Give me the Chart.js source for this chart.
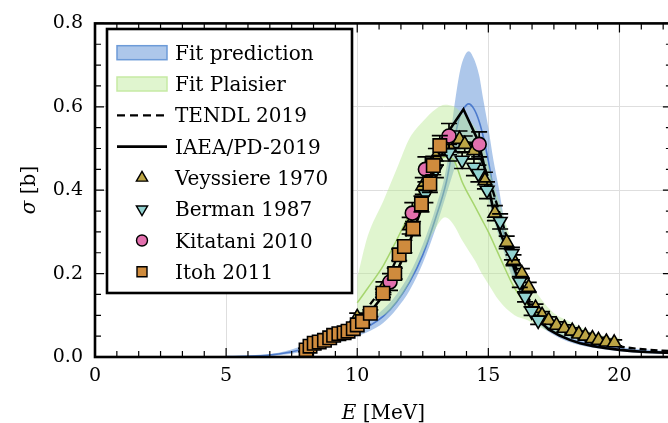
<!DOCTYPE html>
<html><head><meta charset="utf-8">
<script src="https://cdn.jsdelivr.net/npm/chart.js@4.4.1/dist/chart.umd.min.js"></script>
<style>html,body{margin:0;padding:0;background:#fff;overflow:hidden;width:668px;height:423px}canvas{display:block}</style>
</head><body>
<canvas id="c" width="683" height="423"></canvas>
<script>
// ---- data (E in MeV, sigma in b) ----
const fitE   = [5,6,7,8,9,10,10.5,11,11.5,12,12.5,13,13.4,13.7,13.9,14.05,14.25,14.45,14.65,14.8,15.0,15.2,15.4,15.6,15.8,16,16.5,17,17.5,18,19,20,21,22];
const fitHi  = [0.002,0.004,0.01,0.028,0.05,0.075,0.09,0.115,0.15,0.2,0.27,0.36,0.455,0.6,0.68,0.715,0.733,0.715,0.675,0.62,0.55,0.47,0.405,0.33,0.27,0.22,0.14,0.095,0.07,0.052,0.034,0.024,0.018,0.014];
const fitLo  = [0,0.001,0.004,0.014,0.03,0.05,0.063,0.082,0.115,0.16,0.225,0.31,0.39,0.45,0.49,0.51,0.52,0.5,0.465,0.43,0.38,0.33,0.29,0.25,0.21,0.18,0.115,0.075,0.053,0.038,0.022,0.014,0.009,0.007];
const fitMid = [0.001,0.002,0.007,0.02,0.04,0.062,0.076,0.098,0.132,0.18,0.245,0.335,0.42,0.52,0.575,0.595,0.607,0.595,0.565,0.53,0.47,0.4,0.345,0.29,0.24,0.2,0.128,0.085,0.062,0.045,0.028,0.019,0.013,0.01];

const plE   = [10,10.4,11,11.5,12,12.5,13,13.35,13.7,14,14.5,14.75,15,15.4,16,16.5,17,17.5,18,18.5,19,19.5,20];
const plHi  = [0.19,0.29,0.375,0.45,0.525,0.565,0.595,0.605,0.6,0.585,0.55,0.52,0.46,0.375,0.26,0.19,0.14,0.105,0.088,0.072,0.058,0.05,0.046];
const plLo  = [0.09,0.095,0.1,0.13,0.18,0.25,0.31,0.335,0.315,0.28,0.23,0.2,0.175,0.136,0.1,0.088,0.07,0.058,0.048,0.04,0.034,0.03,0.028];
const plMid = [0.13,0.165,0.22,0.28,0.345,0.41,0.46,0.48,0.47,0.42,0.36,0.33,0.3,0.245,0.165,0.125,0.098,0.078,0.064,0.054,0.046,0.04,0.036];

const tendlE = [7.9,8,8.5,9,9.5,10,10.5,11,11.5,12,12.5,13,13.5,14,14.5,15,15.5,16,16.5,17,17.5,18,18.5,19,19.5,20,21,22];
const tendlS = [0,0.014,0.03,0.046,0.066,0.092,0.127,0.173,0.235,0.315,0.4,0.465,0.505,0.518,0.5,0.43,0.33,0.225,0.145,0.098,0.072,0.056,0.045,0.036,0.03,0.025,0.018,0.014];

const iaeaE = [7.9,8,8.5,9,9.5,10,10.5,11,11.5,12,12.5,12.8,13.0,13.2,14.05,14.6,14.8,15.0,15.25,15.5,15.77,16.0,16.2,16.45,16.7,17.0,17.3,17.7,18.1,18.5,19,19.5,20,20.5,21,22];
const iaeaS = [0,0.012,0.024,0.038,0.055,0.078,0.108,0.148,0.203,0.276,0.365,0.425,0.465,0.515,0.594,0.52,0.47,0.41,0.335,0.29,0.252,0.21,0.178,0.14,0.105,0.083,0.066,0.052,0.041,0.033,0.026,0.021,0.017,0.014,0.012,0.01];

const veyE   = [10.0,11.0,12.0,12.5,13.0,13.5,13.9,14.1,14.45,14.87,15.25,15.7,15.96,16.28,16.54,16.8,17.05,17.3,17.6,17.9,18.2,18.45,18.7,18.97,19.2,19.5,19.8];
const veyS   = [0.095,0.165,0.315,0.41,0.48,0.505,0.522,0.51,0.495,0.423,0.345,0.275,0.232,0.2,0.167,0.117,0.1,0.088,0.076,0.069,0.062,0.055,0.05,0.044,0.04,0.036,0.034];
const veyErr = [0.01,0.015,0.02,0.02,0.02,0.02,0.02,0.02,0.02,0.02,0.018,0.015,0.013,0.012,0.012,0.01,0.009,0.008,0.008,0.008,0.008,0.007,0.007,0.007,0.007,0.007,0.007];

const berE   = [12.6,13.0,13.5,14.0,14.45,14.62,14.95,15.45,15.9,16.2,16.4,16.65,16.9];
const berS   = [0.39,0.45,0.49,0.472,0.455,0.44,0.40,0.325,0.248,0.18,0.144,0.11,0.088];
const berErr = [0.02,0.02,0.02,0.02,0.02,0.02,0.02,0.018,0.015,0.013,0.012,0.01,0.01];

const kitE   = [11.25,12.1,12.6,13.5,14.65];
const kitS   = [0.18,0.345,0.45,0.53,0.51];
const kitErr = [0.02,0.025,0.03,0.03,0.03];

const itohE   = [8.05,8.2,8.36,8.55,8.75,8.95,9.1,9.3,9.5,9.65,9.85,10.0,10.2,10.5,10.98,11.43,11.6,11.8,12.13,12.45,12.77,12.9,13.15];
const itohS   = [0.017,0.026,0.033,0.036,0.04,0.046,0.052,0.056,0.058,0.062,0.068,0.077,0.085,0.105,0.153,0.2,0.245,0.265,0.308,0.367,0.415,0.459,0.507];
const itohErr = [0.004,0.004,0.004,0.004,0.005,0.005,0.005,0.005,0.005,0.006,0.006,0.007,0.007,0.008,0.01,0.013,0.014,0.015,0.017,0.019,0.02,0.022,0.024];

const xTicks = [0,5,10,15,20];
const yTicks = [0,0.2,0.4,0.6,0.8];

const pts = (xs, ys) => xs.map((x,i)=>({x:x, y:ys[i]}));

// ---- styles ----
const FONT = 'DejaVu Serif';
const C = {
  blueFill:'rgba(91,143,214,0.50)', blueEdge:'#6d9bd8', blueLine:'rgba(60,110,200,0.85)',
  greenFill:'rgba(180,230,140,0.42)', greenEdge:'#c6eaa4', greenLine:'rgba(160,210,100,0.9)',
  vey:'#bca545', ber:'#92d3d1', kit:'#e370ae', itoh:'#cf8b3d'
};

const datasets = [
  {label:'fitLo', data:pts(fitE,fitLo), borderWidth:0, pointRadius:0, fill:false, cubicInterpolationMode:'monotone', order:10},
  {label:'Fit prediction', data:pts(fitE,fitHi), borderWidth:0, pointRadius:0, fill:'-1', backgroundColor:C.blueFill, cubicInterpolationMode:'monotone', order:9},
  {label:'fitMid', data:pts(fitE,fitMid), borderColor:C.blueLine, borderWidth:1.6, pointRadius:0, fill:false, cubicInterpolationMode:'monotone', order:8},
  {label:'plLo', data:pts(plE,plLo), borderWidth:0, pointRadius:0, fill:false, cubicInterpolationMode:'monotone', order:7},
  {label:'Fit Plaisier', data:pts(plE,plHi), borderWidth:0, pointRadius:0, fill:'-1', backgroundColor:C.greenFill, cubicInterpolationMode:'monotone', order:6},
  {label:'plMid', data:pts(plE,plMid), borderColor:C.greenLine, borderWidth:1.5, pointRadius:0, fill:false, cubicInterpolationMode:'monotone', order:5.5},
  {label:'TENDL 2019', data:pts(tendlE,tendlS), borderColor:'#000', borderWidth:2.3, borderDash:[7,4], pointRadius:0, fill:false, cubicInterpolationMode:'monotone', order:5},
  {label:'IAEA/PD-2019', data:pts(iaeaE,iaeaS), borderColor:'#000', borderWidth:2.6, pointRadius:0, fill:false, tension:0, order:4.5},
  {label:'Veyssiere 1970', data:pts(veyE,veyS), errors:veyErr, showLine:false, pointStyle:'triangle', pointRadius:8, backgroundColor:C.vey, borderColor:'#000', borderWidth:1.6, order:4},
  {label:'Berman 1987', data:pts(berE,berS), errors:berErr, showLine:false, pointStyle:'triangle', rotation:180, pointRotation:180, pointRadius:8, backgroundColor:C.ber, borderColor:'#000', borderWidth:1.6, order:3},
  {label:'Kitatani 2010', data:pts(kitE,kitS), errors:kitErr, showLine:false, pointStyle:'circle', pointRadius:7, backgroundColor:C.kit, borderColor:'#000', borderWidth:1.6, order:2},
  {label:'Itoh 2011', data:pts(itohE,itohS), errors:itohErr, showLine:false, pointStyle:'rect', pointRadius:9.5, backgroundColor:C.itoh, borderColor:'#000', borderWidth:1.6, order:1}
];

// ---- plugins ----
const errorBars = {
  id:'errorBars',
  beforeDatasetDraw(chart, args){
    const ds = chart.data.datasets[args.index];
    if (!ds.errors) return;
    const {ctx} = chart; const y = chart.scales.y;
    ctx.save(); ctx.strokeStyle = '#000'; ctx.lineWidth = 1.7;
    ctx.beginPath();
    args.meta.data.forEach((p,i)=>{
      const v = ds.data[i].y, e = ds.errors[i];
      const y1 = y.getPixelForValue(v+e), y2 = y.getPixelForValue(v-e);
      ctx.moveTo(p.x, y1); ctx.lineTo(p.x, y2);
      ctx.moveTo(p.x-8, y1); ctx.lineTo(p.x+8, y1);
      ctx.moveTo(p.x-8, y2); ctx.lineTo(p.x+8, y2);
    });
    ctx.stroke(); ctx.restore();
  }
};

const frame = {
  id:'frame',
  afterDatasetsDraw(chart){
    const {ctx, chartArea:a, scales:{x,y}} = chart;
    ctx.save(); ctx.strokeStyle='#000'; ctx.lineWidth=1.2; ctx.beginPath();
    for (let k=0; k*5/6 <= x.max+1e-9; k++){
      const px = x.getPixelForValue(k*5/6), L = (k%6===0)?9:6;
      ctx.moveTo(px,a.bottom); ctx.lineTo(px,a.bottom-L);
      ctx.moveTo(px,a.top); ctx.lineTo(px,a.top+L);
    }
    for (let k=0; k*0.05 <= y.max+1e-9; k++){
      const py = y.getPixelForValue(k*0.05), L = (k%4===0)?9:6;
      ctx.moveTo(a.left,py); ctx.lineTo(a.left+L,py);
      ctx.moveTo(a.right,py); ctx.lineTo(a.right-L,py);
    }
    ctx.stroke();
    ctx.lineWidth=2.6; ctx.strokeRect(a.left,a.top,a.right-a.left,a.bottom-a.top);
    ctx.restore();
  }
};

function marker(ctx, style, x, y, r, rot){
  ctx.beginPath();
  if (style==='circle'){ ctx.arc(x,y,r,0,Math.PI*2); }
  else if (style==='rect'){ ctx.rect(x-r,y-r,2*r,2*r); }
  else { let a = rot?Math.PI:0; for(let i=0;i<3;i++){ const px=x+Math.sin(a)*r, py=y-Math.cos(a)*r; i?ctx.lineTo(px,py):ctx.moveTo(px,py); a+=2*Math.PI/3;} ctx.closePath(); }
  ctx.fill(); ctx.stroke();
}

const legendBox = {
  id:'legendBox',
  afterDraw(chart){
    const ctx = chart.ctx; const D = chart.data.datasets;
    const get = l => D.find(d=>d.label===l);
    const items = ['Fit prediction','Fit Plaisier','TENDL 2019','IAEA/PD-2019','Veyssiere 1970','Berman 1987','Kitatani 2010','Itoh 2011'];
    ctx.save();
    ctx.fillStyle='#fff'; ctx.fillRect(107,29,245,264);
    ctx.strokeStyle='#000'; ctx.lineWidth=2.6; ctx.strokeRect(107,29,245,264);
    ctx.font = '20px "'+FONT+'"'; ctx.textBaseline='alphabetic'; ctx.textAlign='left';
    items.forEach((lab,i)=>{
      const cy = 52.7 + 31.3*i; const ds = get(lab);
      if (i===0 || i===1){
        ctx.fillStyle = i===0 ? C.blueFill : C.greenFill;
        ctx.fillRect(117,cy-7,50,14);
        ctx.strokeStyle = i===0 ? C.blueEdge : C.greenEdge; ctx.lineWidth=1.5;
        ctx.strokeRect(117,cy-7,50,14);
      } else if (i===2 || i===3){
        ctx.strokeStyle='#000'; ctx.lineWidth= i===2?2.3:2.6;
        ctx.setLineDash(i===2?[8,5]:[]);
        ctx.beginPath(); ctx.moveTo(117,cy); ctx.lineTo(167,cy); ctx.stroke(); ctx.setLineDash([]);
      } else {
        ctx.fillStyle = ds.backgroundColor; ctx.strokeStyle='#000'; ctx.lineWidth=1.4;
        const st = ds.pointStyle;
        marker(ctx, st, 142, cy, st==='rect'?5:(st==='circle'?5.5:6.5), ds.rotation===180);
      }
      ctx.fillStyle='#000'; ctx.fillText(lab, 175, cy+7);
    });
    // axis titles
    ctx.fillStyle='#000';
    const xc = (chart.chartArea.left+chart.chartArea.right)/2;
    ctx.font='italic 20px "'+FONT+'"'; const wE = ctx.measureText('E').width;
    ctx.font='20px "'+FONT+'"'; const wR = ctx.measureText(' [MeV]').width;
    let x0 = xc - (wE+wR)/2;
    ctx.font='italic 20px "'+FONT+'"'; ctx.fillText('E', x0, 419);
    ctx.font='20px "'+FONT+'"'; ctx.fillText(' [MeV]', x0+wE, 419);
    ctx.translate(28,190); ctx.rotate(-Math.PI/2);
    ctx.font='italic 20px "'+FONT+'"'; const ws = ctx.measureText('σ').width;
    ctx.font='20px "'+FONT+'"'; const wb = ctx.measureText(' [b]').width;
    x0 = -(ws+wb)/2;
    ctx.font='italic 20px "'+FONT+'"'; ctx.fillText('σ', x0, 7);
    ctx.font='20px "'+FONT+'"'; ctx.fillText(' [b]', x0+ws, 7);
    ctx.restore();
  }
};

new Chart(document.getElementById('c'), {
  type:'line',
  data:{datasets},
  options:{
    responsive:false, animation:false, devicePixelRatio:1, events:[],
    layout:{padding:{top:23,right:3,left:0,bottom:0}},
    plugins:{legend:{display:false}, tooltip:{enabled:false}},
    scales:{
      x:{type:'linear', min:0, max:22,
         afterBuildTicks:s=>{s.ticks = xTicks.map(v=>({value:v}));},
         ticks:{font:{family:FONT,size:19}, color:'#000', padding:8, maxRotation:0, callback:v=>String(v)},
         grid:{color:'#dedede', lineWidth:1, drawTicks:false}, border:{display:false},
         afterFit:s=>{s.height=66;}},
      y:{type:'linear', min:0, max:0.8,
         afterBuildTicks:s=>{s.ticks = yTicks.map(v=>({value:v}));},
         ticks:{font:{family:FONT,size:19}, color:'#000', padding:12, callback:v=>Number(v).toFixed(1)},
         grid:{color:'#dedede', lineWidth:1, drawTicks:false}, border:{display:false},
         afterFit:s=>{s.width=95;}}
    }
  },
  plugins:[errorBars, frame, legendBox]
});
</script>
</body></html>
